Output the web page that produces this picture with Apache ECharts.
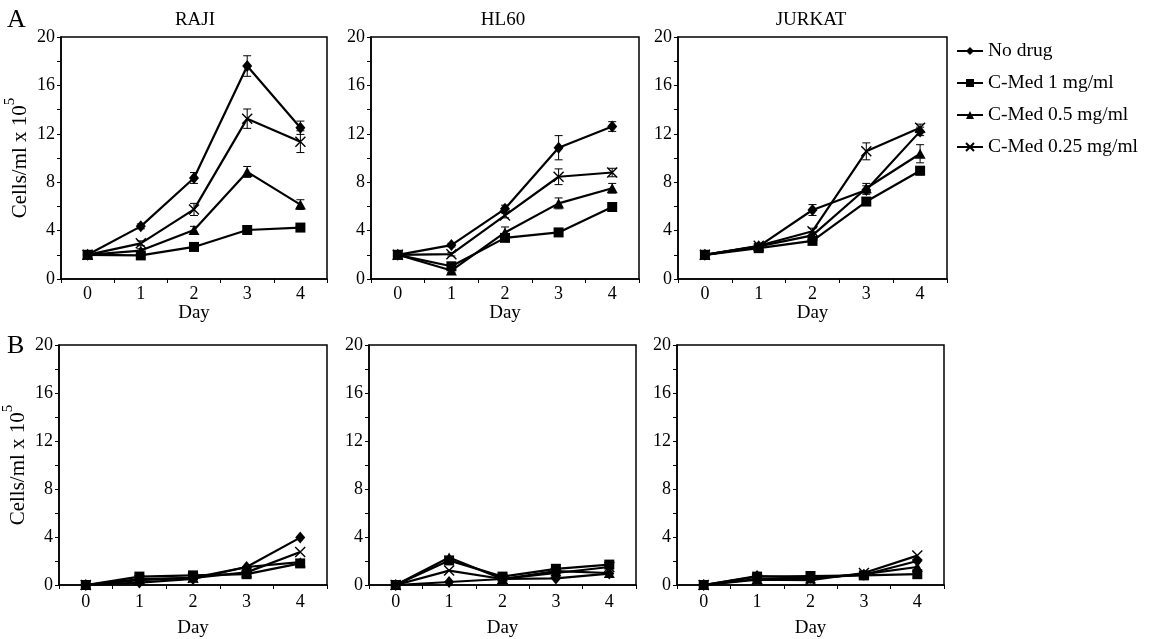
<!DOCTYPE html>
<html>
<head>
<meta charset="utf-8">
<script src="https://cdn.jsdelivr.net/npm/echarts@6/dist/echarts.min.js"></script>
<style>
html,body{margin:0;padding:0;background:#fff;}
#chart{width:1151px;height:639px;}
</style>
</head>
<body>
<div id="chart"></div>
<script>
// ---------- DATA ----------
const days = ['0', '1', '2', '3', '4'];
const seriesNames = ['No drug', 'C-Med 1 mg/ml', 'C-Med 0.5 mg/ml', 'C-Med 0.25 mg/ml'];
const panelTitles = ['RAJI', 'HL60', 'JURKAT'];
const yTicks = [0, 4, 8, 12, 16, 20];

// Panel A (top row) – means
const rajiA_noDrug  = [2, 4.35, 8.35, 17.6, 12.5];
const rajiA_med1    = [2, 1.95, 2.65, 4.05, 4.25];
const rajiA_med05   = [2, 2.35, 4.05, 8.85, 6.15];
const rajiA_med025  = [2, 2.95, 5.75, 13.25, 11.35];
const hl60A_noDrug  = [2, 2.8, 5.8, 10.85, 12.6];
const hl60A_med1    = [2, 1.05, 3.4, 3.85, 5.95];
const hl60A_med05   = [2, 0.7, 3.85, 6.25, 7.5];
const hl60A_med025  = [2, 2.05, 5.25, 8.45, 8.8];
const jurkA_noDrug  = [2, 2.7, 5.7, 7.35, 12.2];
const jurkA_med1    = [2, 2.55, 3.15, 6.4, 8.95];
const jurkA_med05   = [2, 2.7, 3.6, 7.5, 10.35];
const jurkA_med025  = [2, 2.75, 3.95, 10.55, 12.5];

// Panel A – error bar half-widths
const rajiA_noDrug_err = [0, 0.2, 0.45, 0.85, 0.55];
const rajiA_med1_err   = [0, 0.1, 0.15, 0.25, 0.2];
const rajiA_med05_err  = [0, 0.15, 0.3, 0.45, 0.4];
const rajiA_med025_err = [0, 0.2, 0.5, 0.8, 0.9];
const hl60A_noDrug_err = [0, 0.15, 0.3, 1.0, 0.4];
const hl60A_med1_err   = [0, 0.1, 0.2, 0.3, 0.2];
const hl60A_med05_err  = [0, 0.15, 0.45, 0.45, 0.4];
const hl60A_med025_err = [0, 0.15, 0.2, 0.65, 0.35];
const jurkA_noDrug_err = [0, 0.1, 0.45, 0.35, 0.35];
const jurkA_med1_err   = [0, 0.1, 0.2, 0.3, 0.35];
const jurkA_med05_err  = [0, 0.15, 0.3, 0.4, 0.75];
const jurkA_med025_err = [0, 0.2, 0.25, 0.7, 0.3];

// Panel B (bottom row) – means
const rajiB_noDrug  = [0, 0.2, 0.5, 1.5, 3.95];
const rajiB_med1    = [0, 0.7, 0.8, 0.9, 1.8];
const rajiB_med05   = [0, 0.5, 0.6, 1.5, 1.9];
const rajiB_med025  = [0, 0.4, 0.6, 1.05, 2.75];
const hl60B_noDrug  = [0, 0.25, 0.5, 0.55, 0.95];
const hl60B_med1    = [0, 2.05, 0.7, 1.35, 1.7];
const hl60B_med05   = [0, 2.3, 0.5, 1.15, 1.0];
const hl60B_med025  = [0, 1.2, 0.5, 1.0, 1.5];
const jurkB_noDrug  = [0, 0.75, 0.6, 0.85, 2.0];
const jurkB_med1    = [0, 0.7, 0.75, 0.8, 0.9];
const jurkB_med05   = [0, 0.5, 0.55, 0.9, 1.5];
const jurkB_med025  = [0, 0.45, 0.4, 1.0, 2.45];

// ---------- BUILD ----------
const panels = [
  [rajiA_noDrug, rajiA_med1, rajiA_med05, rajiA_med025],
  [hl60A_noDrug, hl60A_med1, hl60A_med05, hl60A_med025],
  [jurkA_noDrug, jurkA_med1, jurkA_med05, jurkA_med025],
  [rajiB_noDrug, rajiB_med1, rajiB_med05, rajiB_med025],
  [hl60B_noDrug, hl60B_med1, hl60B_med05, hl60B_med025],
  [jurkB_noDrug, jurkB_med1, jurkB_med05, jurkB_med025]
];
const panelErrs = [
  [rajiA_noDrug_err, rajiA_med1_err, rajiA_med05_err, rajiA_med025_err],
  [hl60A_noDrug_err, hl60A_med1_err, hl60A_med05_err, hl60A_med025_err],
  [jurkA_noDrug_err, jurkA_med1_err, jurkA_med05_err, jurkA_med025_err],
  null, null, null
];

const FONT = 'Liberation Serif';
const gridBoxes = [
  {left: 61,  top: 37,  width: 266, height: 242},
  {left: 371, top: 37,  width: 268, height: 242},
  {left: 678, top: 37,  width: 269, height: 242},
  {left: 59,  top: 345, width: 268, height: 243},
  {left: 369, top: 345, width: 267, height: 243},
  {left: 677, top: 345, width: 267, height: 243}
];
const symbols = ['diamond', 'rect', 'triangle', 'path://M0,0L10,10M10,0L0,10'];
const symbolSizes = [[10, 12], 10, [11, 10], 10];

const grid = gridBoxes.map(g => Object.assign({
  show: true, borderColor: '#000', borderWidth: 1.5, backgroundColor: 'transparent', containLabel: false
}, g));

const xAxis = gridBoxes.map((g, i) => ({
  type: 'category', gridIndex: i, data: days, boundaryGap: true,
  axisLine: {lineStyle: {color: '#000', width: 1.5}},
  axisTick: {show: true, length: 4, lineStyle: {color: '#000', width: 1}},
  axisLabel: {color: '#000', fontFamily: FONT, fontSize: 18, margin: i < 3 ? 6 : 8},
  name: 'Day', nameLocation: 'middle', nameGap: i < 3 ? 23 : 34,
  nameTextStyle: {color: '#000', fontFamily: FONT, fontSize: 19, verticalAlign: 'top'}
}));

const yAxis = gridBoxes.map((g, i) => ({
  type: 'value', gridIndex: i, min: 0, max: 20, interval: 4,
  axisLine: {show: true, lineStyle: {color: '#000', width: 1.5}},
  axisTick: {show: true, length: 4, lineStyle: {color: '#000', width: 1}},
  minorTick: {show: true, splitNumber: 2, length: 4, lineStyle: {color: '#000', width: 1}},
  splitLine: {show: false},
  axisLabel: {color: '#000', fontFamily: FONT, fontSize: 18, margin: 6,
    formatter: v => (yTicks.indexOf(v) >= 0 ? String(v) : '')},
  name: (i === 0 || i === 3) ? '{a|Cells/ml x 10}{s|5}' : '',
  nameLocation: 'middle', nameGap: 30, nameRotate: 90,
  nameTextStyle: {
    color: '#000', fontFamily: FONT, fontSize: 21,
    rich: {
      a: {fontFamily: FONT, fontSize: 21, color: '#000', lineHeight: 28, verticalAlign: 'bottom'},
      s: {fontFamily: FONT, fontSize: 15, color: '#000', lineHeight: 28, verticalAlign: 'top'}
    }
  }
}));

const series = [];
panels.forEach((set, p) => {
  set.forEach((vals, k) => {
    series.push({
      type: 'line', name: seriesNames[k], xAxisIndex: p, yAxisIndex: p,
      data: vals, symbol: symbols[k], symbolSize: symbolSizes[k], showSymbol: true,
      color: '#000',
      lineStyle: {color: '#000', width: 2.2},
      itemStyle: k === 3 ? {color: 'transparent', borderColor: '#000', borderWidth: 1.4}
                         : {color: '#000', borderColor: '#000', borderWidth: 0},
      z: 3, animation: false
    });
  });
  if (panelErrs[p]) {
    panelErrs[p].forEach((errs, k) => {
      series.push({
        type: 'custom', xAxisIndex: p, yAxisIndex: p, silent: true, z: 2,
        data: set[k].map((v, j) => [j, v, errs[j]]),
        renderItem: (params, api) => {
          const x = api.value(0), y = api.value(1), e = api.value(2);
          if (!e) return null;
          const t = api.coord([x, y + e]), b = api.coord([x, y - e]);
          const w = 4;
          const st = {stroke: '#000', lineWidth: 1};
          return {type: 'group', children: [
            {type: 'line', shape: {x1: t[0], y1: t[1], x2: b[0], y2: b[1]}, style: st},
            {type: 'line', shape: {x1: t[0] - w, y1: t[1], x2: t[0] + w, y2: t[1]}, style: st},
            {type: 'line', shape: {x1: b[0] - w, y1: b[1], x2: b[0] + w, y2: b[1]}, style: st}
          ]};
        },
        animation: false
      });
    });
  }
});

const titleCenters = [195, 503, 811];
const graphic = panelTitles.map((t, i) => ({
  type: 'text', x: titleCenters[i], y: 20,
  style: {text: t, align: 'center', verticalAlign: 'middle', fill: '#000', font: '19px "Liberation Serif"'}
})).concat([
  {type: 'text', x: 7, y: 20, style: {text: 'A', align: 'left', verticalAlign: 'middle', fill: '#000', font: '26px "Liberation Serif"'}},
  {type: 'text', x: 7, y: 346, style: {text: 'B', align: 'left', verticalAlign: 'middle', fill: '#000', font: '26px "Liberation Serif"'}}
]);

const chart = echarts.init(document.getElementById('chart'));
chart.setOption({
  animation: false,
  backgroundColor: '#fff',
  grid, xAxis, yAxis, series, graphic,
  legend: {
    data: seriesNames, orient: 'vertical', left: 951, top: 36,
    itemWidth: 26, itemHeight: 10, itemGap: 12,
    textStyle: {color: '#000', fontFamily: FONT, fontSize: 19.5},
    inactiveColor: '#000'
  }
});
</script>
</body>
</html>
